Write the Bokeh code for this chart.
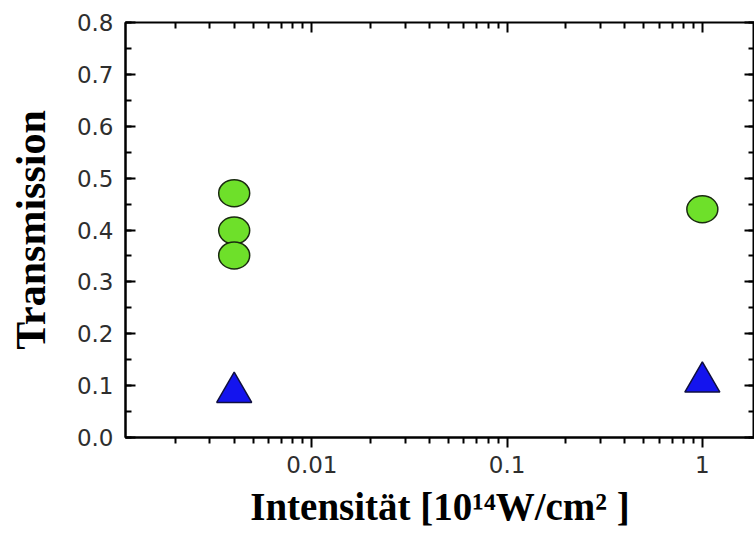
from bokeh.plotting import figure
from bokeh.models import (Range1d, LogAxis, LinearAxis, FixedTicker,
                          SingleIntervalTicker, PrintfTickFormatter)
from bokeh.embed import file_html
from bokeh.resources import INLINE

# Measured transmission versus laser intensity
circle_intensity = [0.004, 0.004, 0.004, 1.0]
circle_transmission = [0.471, 0.399, 0.351, 0.44]

triangle_intensity = [0.004, 1.0]
triangle_transmission = [0.087, 0.107]

x_tick_values = [0.01, 0.1, 1]
x_tick_labels = {0.01: "0.01", 0.1: "0.1", 1: "1"}
x_minor_values = [m * 10.0 ** e for e in range(-3, 1) for m in range(2, 10)]

GREEN = "#6ee02a"
BLUE = "#1414ee"
TICK_FONT = "DejaVu Sans"
TICK_COLOR = "#2e2e2e"
TITLE_FONT = "Liberation Serif"


def x_ticker():
    return FixedTicker(ticks=x_tick_values, minor_ticks=x_minor_values)


def y_ticker():
    return SingleIntervalTicker(interval=0.1, num_minor_ticks=2)


p = figure(
    width=754, height=534,
    x_axis_type="log",
    x_range=Range1d(0.00111, 1.85),
    y_range=Range1d(0.0, 0.8),
    output_backend="svg",
    toolbar_location=None,
    min_border_left=125, min_border_right=0,
    min_border_top=22, min_border_bottom=97,
)
p.background_fill_color = "white"
p.border_fill_color = "white"
p.grid.visible = False
p.outline_line_color = "black"
p.outline_line_width = 2

# bottom (log) axis
xa = p.xaxis[0]
xa.ticker = x_ticker()
xa.major_label_overrides = x_tick_labels
xa.axis_line_width = 2
xa.major_tick_line_width = 2
xa.minor_tick_line_width = 2
xa.major_tick_in = 0
xa.major_tick_out = 10
xa.minor_tick_in = 0
xa.minor_tick_out = 6
xa.major_label_standoff = 8
xa.major_label_text_font = TICK_FONT
xa.major_label_text_font_size = "23px"
xa.major_label_text_color = TICK_COLOR
xa.axis_label = "Intensität [10¹⁴W/cm² ]"
xa.axis_label_text_font = TITLE_FONT
xa.axis_label_text_font_style = "bold"
xa.axis_label_text_font_size = "39px"
xa.axis_label_text_color = "black"
xa.axis_label_standoff = 9

# left axis
ya = p.yaxis[0]
ya.ticker = y_ticker()
ya.formatter = PrintfTickFormatter(format="%.1f")
ya.axis_line_width = 2
ya.major_tick_line_width = 2
ya.minor_tick_line_width = 2
ya.major_tick_in = 10
ya.major_tick_out = 0
ya.minor_tick_in = 6
ya.minor_tick_out = 0
ya.major_label_standoff = 12
ya.major_label_text_font = TICK_FONT
ya.major_label_text_font_size = "23px"
ya.major_label_text_color = TICK_COLOR
ya.axis_label = "Transmission"
ya.axis_label_text_font = TITLE_FONT
ya.axis_label_text_font_style = "bold"
ya.axis_label_text_font_size = "42px"
ya.axis_label_text_color = "black"
ya.axis_label_standoff = 20

# mirrored top and right axes: ticks pointing inward, labels hidden
mirror_style = dict(axis_line_color=None,
                    major_tick_in=10, major_tick_out=0, minor_tick_in=6, minor_tick_out=0,
                    major_tick_line_width=2, minor_tick_line_width=2,
                    major_label_text_font_size="1px", major_label_text_alpha=0,
                    major_label_standoff=0)
top = LogAxis(ticker=x_ticker(), **mirror_style)
p.add_layout(top, "above")
right = LinearAxis(ticker=y_ticker(), **mirror_style)
p.add_layout(right, "right")

# data markers
p.ellipse(circle_intensity, circle_transmission, width=31, height=27,
          width_units="screen", height_units="screen",
          fill_color=GREEN, line_color="#1a2a10", line_width=1.5)
p.scatter(triangle_intensity, triangle_transmission, marker="triangle", size=35,
          fill_color=BLUE, line_color="#101040", line_width=1.5)

open("out.html", "w").write(file_html(p, INLINE))
